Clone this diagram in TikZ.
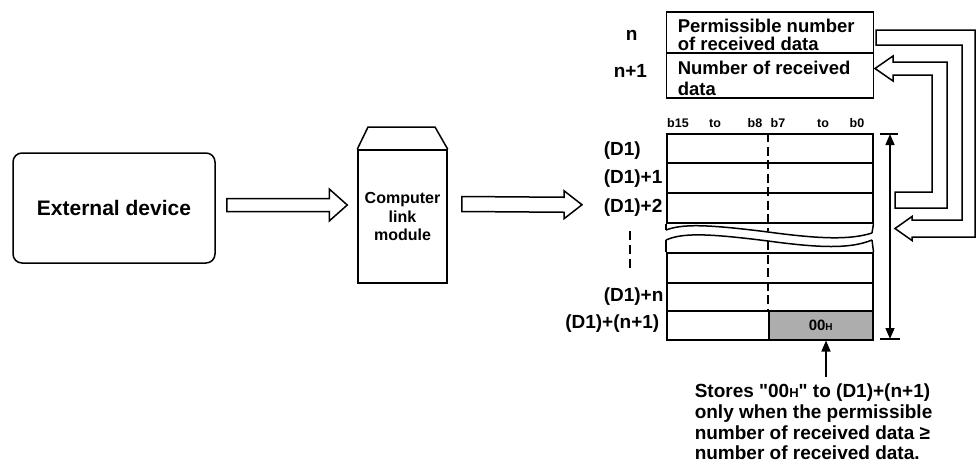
\documentclass[tikz,border=0pt]{standalone}
\usepackage{fontspec}
\setmainfont{Liberation Sans}
\usetikzlibrary{arrows.meta,calc}
\newcommand\smallH[1]{{\fontsize{#1}{#1}\selectfont H}}
\newcommand\straightq{\XeTeXglyph\XeTeXglyphindex "quotedbl"\relax}
\newcommand\harrow[5]{%
  \draw[hollow] ($(#1)+(0,-#3)$) -- ($(#2)+(-#5,-#3)$) -- ($(#2)+(-#5,-#4)$) -- (#2)
    -- ($(#2)+(-#5,#4)$) -- ($(#2)+(-#5,#3)$) -- ($(#1)+(0,#3)$) -- cycle;}
\begin{document}
\begin{tikzpicture}[x=1pt,y=-1pt,line width=1.5pt,
  big/.style={inner sep=0pt,font=\bfseries\fontsize{21}{24}\selectfont},
  lbl/.style={inner sep=0pt,font=\bfseries\fontsize{19}{21}\selectfont},
  boxtxt/.style={inner sep=0pt,anchor=base west,font=\bfseries\fontsize{18.5}{20}\selectfont},
  bits/.style={inner sep=0pt,anchor=base,font=\bfseries\fontsize{12.5}{12.5}\selectfont},
  row/.style={draw,minimum width=206pt,inner sep=0pt},
  hollow/.style={line width=1.5pt,line join=miter},
  tip/.style={-{Triangle[length=11pt,width=9pt]}},
  dimtip/.style={{Triangle[length=11pt,width=9pt]}-{Triangle[length=11pt,width=9pt]}},
  dashv/.style={line width=1.5pt,dash pattern=on 9pt off 4.5pt}
]
\useasboundingbox (0,0) rectangle (977,464);

% External device
\node[draw,rounded corners=9pt,minimum width=202pt,minimum height=110pt,big] (ext) at (114,208) {External device};

% Computer link module
\node[draw,minimum width=89pt,minimum height=133pt,align=center,inner sep=0pt,
      font=\bfseries\fontsize{16}{18.5}\selectfont] (mod) at (402.5,216.5) {Computer\\link\\module};
\draw[line join=miter] (mod.north west) -- (368,127) -- (435,127) -- (mod.north east);

% top boxes
\node[draw,minimum width=207pt,minimum height=41pt,inner sep=0pt,anchor=north west] (nbox) at (665.5,11) {};
\node[draw,minimum width=207pt,minimum height=45pt,inner sep=0pt,anchor=north west] (n1box) at (665.5,52) {};
\node[boxtxt] (t1) at (677,32) {Permissible number};
\node[boxtxt] (t2) at (677,50) {of received data};
\node[boxtxt] (t3) at (677,74) {Number of received};
\node[boxtxt] (t4) at (677,95) {data};
\node[lbl,anchor=base west] (ln) at (625,40) {n};
\node[lbl,anchor=base west] (ln1) at (613,77) {n+1};

% bit labels
\node[bits] (b15) at (678,127) {b15};
\node[bits] (to1) at (715,127) {to};
\node[bits] (b8) at (755,127) {b8};
\node[bits] (b7) at (778,127) {b7};
\node[bits] (to2) at (823,127) {to};
\node[bits] (b0) at (857,127) {b0};

% memory rows
\node[row,minimum height=29pt,anchor=north west] (r0) at (666,133) {};
\node[row,minimum height=30pt,anchor=north west] (r1) at (666,162) {};
\node[row,minimum height=30pt,anchor=north west] (r2) at (666,192) {};
\node[row,minimum height=30pt,anchor=north west] (rx) at (666,252) {};
\node[row,minimum height=28pt,anchor=north west] (rn) at (666,282) {};
\node[row,minimum height=29pt,anchor=north west] (rl) at (666,310) {};
% broken region
\draw (r2.south west) -- (666,230);
\draw (r2.south east) -- (872,233);
\draw (rx.north west) -- (666,240);
\draw (rx.north east) -- (872,240);
\draw (666,230) .. controls (682,224) and (705,224) .. (768,232) .. controls (820,239) and (850,240) .. (872,233);
\draw (666,240) .. controls (682,233) and (705,233) .. (768,241) .. controls (820,248) and (850,249) .. (872,240);
% shaded cell
\node[draw,fill=black!32,minimum width=104pt,minimum height=29pt,inner sep=0pt,anchor=north west,
      font=\bfseries\fontsize{15}{15}\selectfont] (cell) at (768,310) {00\smallH{10}};
% dashed divider
\draw[dashv] (768,133) -- (768,231);
\draw[dashv] (768,241) -- (768,310);

% row labels
\node[lbl,anchor=base west] (d0) at (603,155) {(D1)};
\node[lbl,anchor=base west] (d1) at (603,183) {(D1)+1};
\node[lbl,anchor=base west] (d2) at (603,212) {(D1)+2};
\node[lbl,anchor=base west] (dn) at (603,301) {(D1)+n};
\node[lbl,anchor=base east] (dl) at (660,328) {(D1)+(n+1)};
\draw[dash pattern=on 9pt off 5pt] (630,231) -- (630,271);

% hollow arrows left to right
\coordinate (a1s) at ($(ext.east)+(11,-3)$);
\coordinate (a1e) at ($(mod.west)+(-10,-11.5)$);
\harrow{a1s}{a1e}{6.5}{16}{18}
\coordinate (a2s) at ($(mod.east)+(14,-12.5)$);
\coordinate (a2e) at ($(r2.west)+(-84,-3)$);
\harrow{a2s}{a2e}{7.5}{14}{18}

% dimension arrow
\coordinate (dimt) at (890,134);
\coordinate (dimb) at (890,339);
\draw[dimtip] (dimt) -- (dimb);
\draw (880,134) -- (898,134);
\draw (880,339) -- (900,339);

% right hollow return arrows
\draw[hollow] (876,30) -- (975,30) -- (975,237) -- (912,237) -- (912,240.5) -- (895,228.5)
   -- (912,216.5) -- (912,220) -- (962,220) -- (962,45) -- (876,45) -- cycle;
\draw[hollow] (895,192) -- (932,192) -- (932,75) -- (893,75) -- (893,81) -- (875,68.5)
   -- (893,56) -- (893,62) -- (947,62) -- (947,208) -- (895,208) -- cycle;

% note
\node[lbl,anchor=base west] (note1) at (694,397) {Stores \straightq 00\smallH{13}\straightq{} to (D1)+(n+1)};
\node[lbl,anchor=base west] (note2) at (694,418) {only when the permissible};
\node[lbl,anchor=base west] (note3) at (694,439) {number of received data ≥};
\node[lbl,anchor=base west] (note4) at (694,459) {number of received data.};
\coordinate (tail) at (826,377);
\draw[tip] (tail) -- (tail |- cell.south);
\end{tikzpicture}
\end{document}
